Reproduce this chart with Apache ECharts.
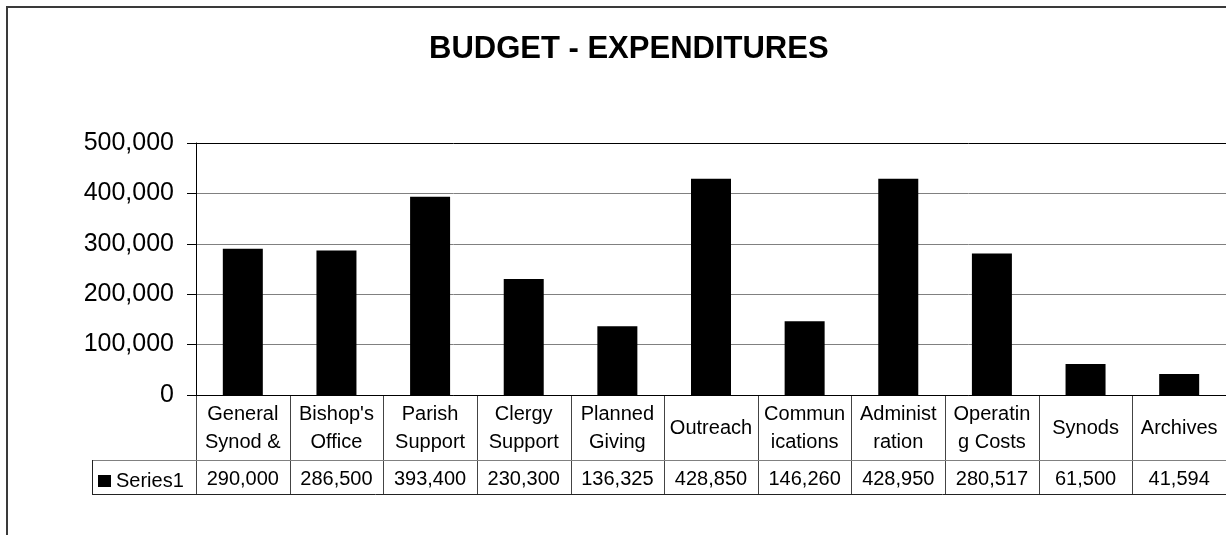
<!DOCTYPE html>
<html><head><meta charset="utf-8">
<script src="https://cdn.jsdelivr.net/npm/echarts@6/dist/echarts.min.js"></script>
<style>html,body{margin:0;padding:0;background:#fff}#c{width:1226px;height:535px}</style>
</head><body><div id="c"></div>
<script>
var categories = ["General\nSynod &", "Bishop's\nOffice", "Parish\nSupport", "Clergy\nSupport", "Planned\nGiving", "Outreach", "Commun\nications", "Administ\nration", "Operatin\ng Costs", "Synods", "Archives"];
var values = [290000, 286500, 393400, 230300, 136325, 428850, 146260, 428950, 280517, 61500, 41594];
var seriesName = "Series1";
var yTicks = { min: 0, max: 500000, interval: 100000 };

var fmt = function (v) { return v.toLocaleString('en-US'); };
var FONT = '"Liberation Sans", Arial, sans-serif';
var L = 196, T = 143, B = 395, W = 1226 - 196;

var chart = echarts.init(document.getElementById('c'), null, { renderer: 'canvas' });

function tableGraphics() {
  var g = [];
  var n = categories.length;
  var cw = W / n;
  var rowSep = 460, bottom = 494;
  g.push({ type: 'rect', shape: { x: 7, y: 7, width: 1300, height: 600 }, style: { fill: 'none', stroke: '#3a3a3a', lineWidth: 2 }, silent: true });
  for (var i = 0; i <= n; i++) {
    var x = Math.round(L + i * cw) + 0.5;
    g.push({ type: 'line', shape: { x1: x, y1: B, x2: x, y2: bottom }, style: { stroke: '#444', lineWidth: 1 }, silent: true });
  }
  g.push({ type: 'line', shape: { x1: 92, y1: rowSep + 0.5, x2: 1226, y2: rowSep + 0.5 }, style: { stroke: '#808080', lineWidth: 1.2 }, silent: true });
  g.push({ type: 'line', shape: { x1: 92, y1: bottom + 0.5, x2: 1226, y2: bottom + 0.5 }, style: { stroke: '#222', lineWidth: 1 }, silent: true });
  g.push({ type: 'line', shape: { x1: 92.5, y1: rowSep, x2: 92.5, y2: bottom }, style: { stroke: '#222', lineWidth: 1 }, silent: true });
  return g;
}

chart.setOption({
  animation: false,
  backgroundColor: '#fff',
  title: {
    text: 'BUDGET - EXPENDITURES',
    left: 424, top: 29,
    textStyle: { fontFamily: FONT, fontSize: 31, fontWeight: 'bold', color: '#000' }
  },
  legend: {
    left: 93, top: 466,
    itemWidth: 13, itemHeight: 12, itemGap: 4,
    icon: 'rect',
    data: [seriesName],
    textStyle: { fontFamily: FONT, fontSize: 20, color: '#000', padding: [0, 0, 0, 0] }
  },
  grid: { left: L, top: T, width: W, height: B - T, containLabel: false },
  xAxis: [{
    type: 'category', data: categories, position: 'bottom',
    axisLine: { show: true, lineStyle: { color: '#000', width: 1 } },
    axisTick: { show: false },
    axisLabel: { interval: 0, margin: 33, verticalAlign: 'middle', lineHeight: 28, fontFamily: FONT, fontSize: 20, color: '#000' }
  }, {
    type: 'category', data: values.map(fmt), position: 'bottom',
    axisLine: { show: false }, axisTick: { show: false },
    axisLabel: { interval: 0, margin: 84, verticalAlign: 'middle', fontFamily: FONT, fontSize: 20, color: '#000' }
  }],
  yAxis: {
    type: 'value', min: yTicks.min, max: yTicks.max, interval: yTicks.interval,
    axisLine: { show: true, lineStyle: { color: '#000', width: 1 } },
    axisTick: { show: true, length: 9, lineStyle: { color: '#000' } },
    axisLabel: { margin: 22, fontFamily: FONT, fontSize: 25, color: '#000', formatter: fmt },
    splitLine: { show: true, lineStyle: { color: ['#808080', '#808080', '#808080', '#808080', '#808080', '#000'], width: 1 } }
  },
  series: [{
    name: seriesName, type: 'bar', data: values, xAxisIndex: 0,
    barWidth: 40,
    itemStyle: { color: '#000' }
  }],
  graphic: tableGraphics()
});
</script></body></html>
